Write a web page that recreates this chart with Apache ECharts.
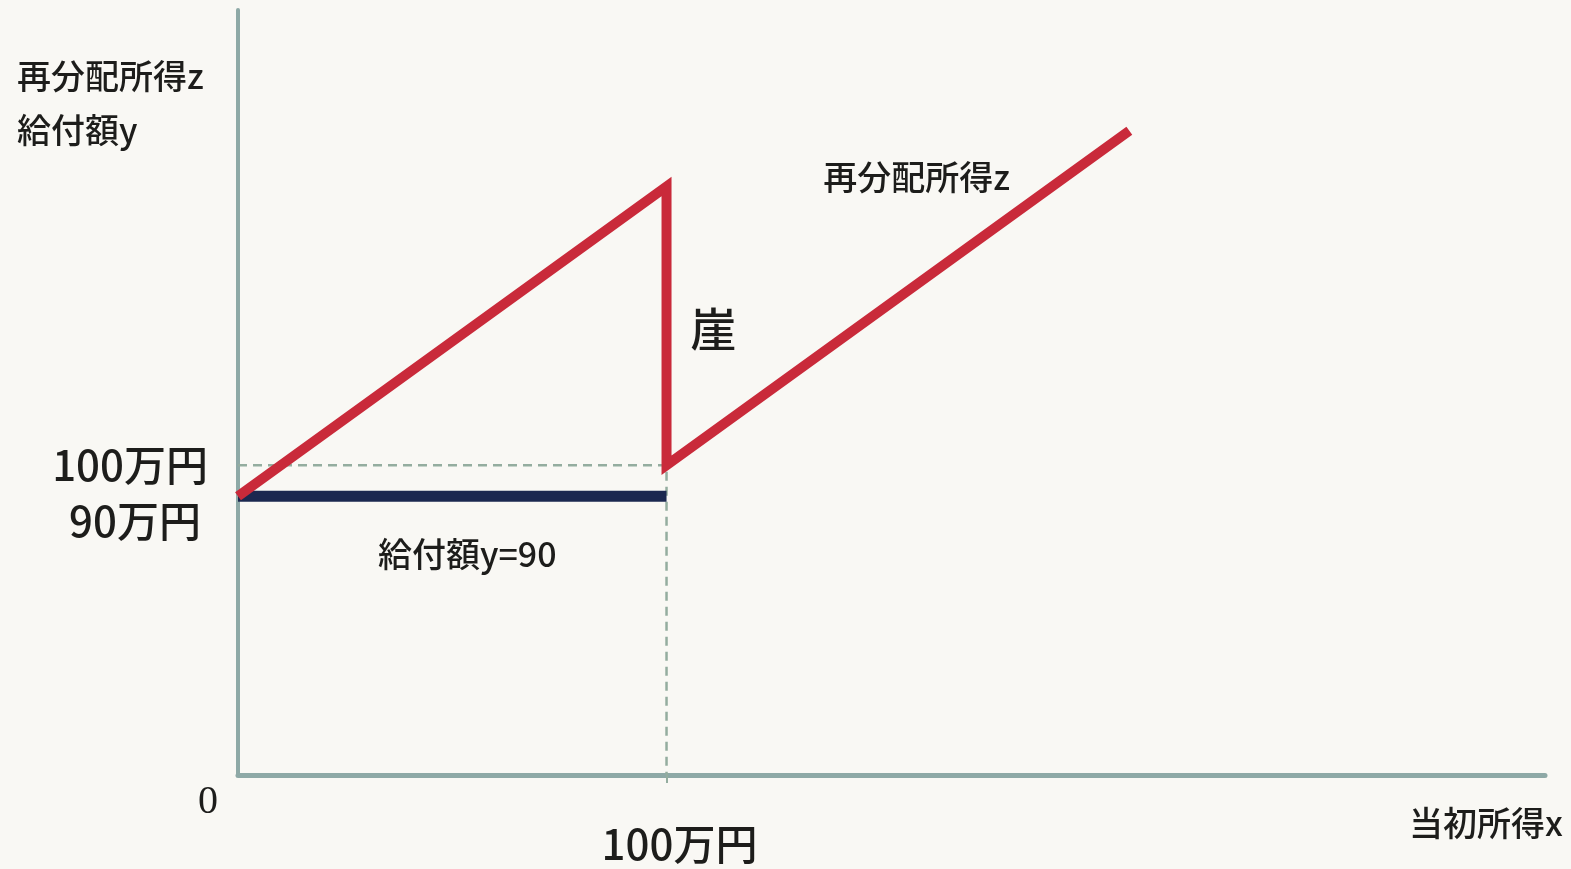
<!DOCTYPE html>
<html lang="ja">
<head>
<meta charset="utf-8">
<title>再分配所得と給付額</title>
<script src="https://cdn.jsdelivr.net/npm/echarts@6/dist/echarts.min.js"></script>
<style>
  html, body { margin: 0; padding: 0; background: #f9f8f4; }
  #chart { width: 1571px; height: 869px; }
</style>
</head>
<body>
<div id="chart"></div>
<script>
// 当初所得 x (万円) と 再分配所得 z (万円)：100万円未満は z = x + 90、以上は z = x
const incomeX = [0, 100, 100, 208];
const redistZ = [90, 190, 100, 208];

// 給付額 y = 90 (当初所得 100万円未満)
const benefitX = [0, 100];
const benefitY = [90, 90];

// 100万円の補助線
const guideX = [0, 100, 100];
const guideZ = [100, 100, 0];

// 軸の目盛り
const yTickValues = [100];
const yTickLabels = ['100万円'];
const xTickValues = [100];
const xTickLabels = ['100万円'];
const benefitTickLabel = '90万円';
const originLabel = '0';
const yAxisTitle = ['再分配所得z', '給付額y'];
const xAxisTitle = '当初所得x';
const lineLabel = '再分配所得z';
const cliffLabel = '崖';
const benefitLabel = '給付額y=90';

const FONT = '"Noto Sans CJK JP", "Noto Sans", sans-serif';
const INK = '#1d1d1b';
const RED = '#c92a3a';
const NAVY = '#1b2850';
const AXIS = '#8ea9a6';
const GUIDE = '#94ad9f';

const pairs = (xs, ys) => xs.map((x, i) => [x, ys[i]]);

const chart = echarts.init(document.getElementById('chart'));
chart.setOption({
  backgroundColor: '#f9f8f4',
  animation: false,
  grid: { left: 238, right: 26, top: 10, bottom: 94 },
  xAxis: {
    type: 'value', min: 0, max: 305,
    splitLine: { show: false },
    axisLine: { lineStyle: { color: AXIS, width: 5 } },
    axisTick: { show: true, customValues: xTickValues, length: 8,
                lineStyle: { color: GUIDE, width: 2 } },
    axisLabel: {
      show: true, customValues: xTickValues, margin: 48,
      formatter: v => xTickLabels[xTickValues.indexOf(v)] || '',
      color: INK, fontFamily: FONT, fontSize: 42, fontWeight: 500,
      padding: [0, 0, 0, 26]
    }
  },
  yAxis: {
    type: 'value', min: 0, max: 247,
    splitLine: { show: false },
    axisTick: { show: false },
    axisLine: { show: true, lineStyle: { color: AXIS, width: 4 } },
    axisLabel: {
      show: true, customValues: yTickValues, margin: 30,
      formatter: v => yTickLabels[yTickValues.indexOf(v)] || '',
      color: INK, fontFamily: FONT, fontSize: 42, fontWeight: 500
    }
  },
  series: [
    {
      type: 'line', data: pairs(guideX, guideZ), symbol: 'none', z: 1,
      lineStyle: { color: GUIDE, width: 2.5, type: [9, 6] }
    },
    {
      type: 'line', data: pairs(benefitX, benefitY), symbol: 'none', z: 2,
      lineStyle: { color: NAVY, width: 11, cap: 'butt' }
    },
    {
      type: 'line', data: pairs(incomeX, redistZ), symbol: 'none', z: 3,
      lineStyle: { color: RED, width: 10, join: 'miter', cap: 'butt' }
    }
  ]
});

// 注記はデータ座標から位置を求めて配置する
const px = (x, y) => chart.convertToPixel({ gridIndex: 0 }, [x, y]);
const origin = px(0, 0);
const p90 = px(0, 90);
const xEnd = px(305, 0);
const lineEnd = px(incomeX[3], redistZ[3]);
const cliffMid = px(100, 145);
const benefitMid = px(50, 90);

const txt = (text, x, y, size, align, extra) => ({
  type: 'text', x, y, silent: true,
  style: Object.assign({
    text, fill: INK, font: `500 ${size}px ${FONT}`,
    align: align, verticalAlign: 'middle'
  }, extra || {})
});

chart.setOption({
  graphic: [
    txt(yAxisTitle[0], 17, 76, 34, 'left'),
    txt(yAxisTitle[1], 17, 130, 34, 'left'),
    txt(benefitTickLabel, origin[0] - 37, p90[1] + 25, 42, 'right'),
    txt(originLabel, origin[0] - 30, origin[1] + 27, 40, 'center',
        { font: `40px "Liberation Serif", "DejaVu Serif", serif` }),
    txt(xAxisTitle, xEnd[0] + 18, origin[1] + 48, 34, 'right'),
    txt(lineLabel, lineEnd[0] - 306, lineEnd[1] + 46, 34, 'left'),
    txt(cliffLabel, cliffMid[0] + 24, cliffMid[1] + 3, 46, 'left'),
    txt(benefitLabel, benefitMid[0] + 15, benefitMid[1] + 58, 34, 'center')
  ]
});
</script>
</body>
</html>
